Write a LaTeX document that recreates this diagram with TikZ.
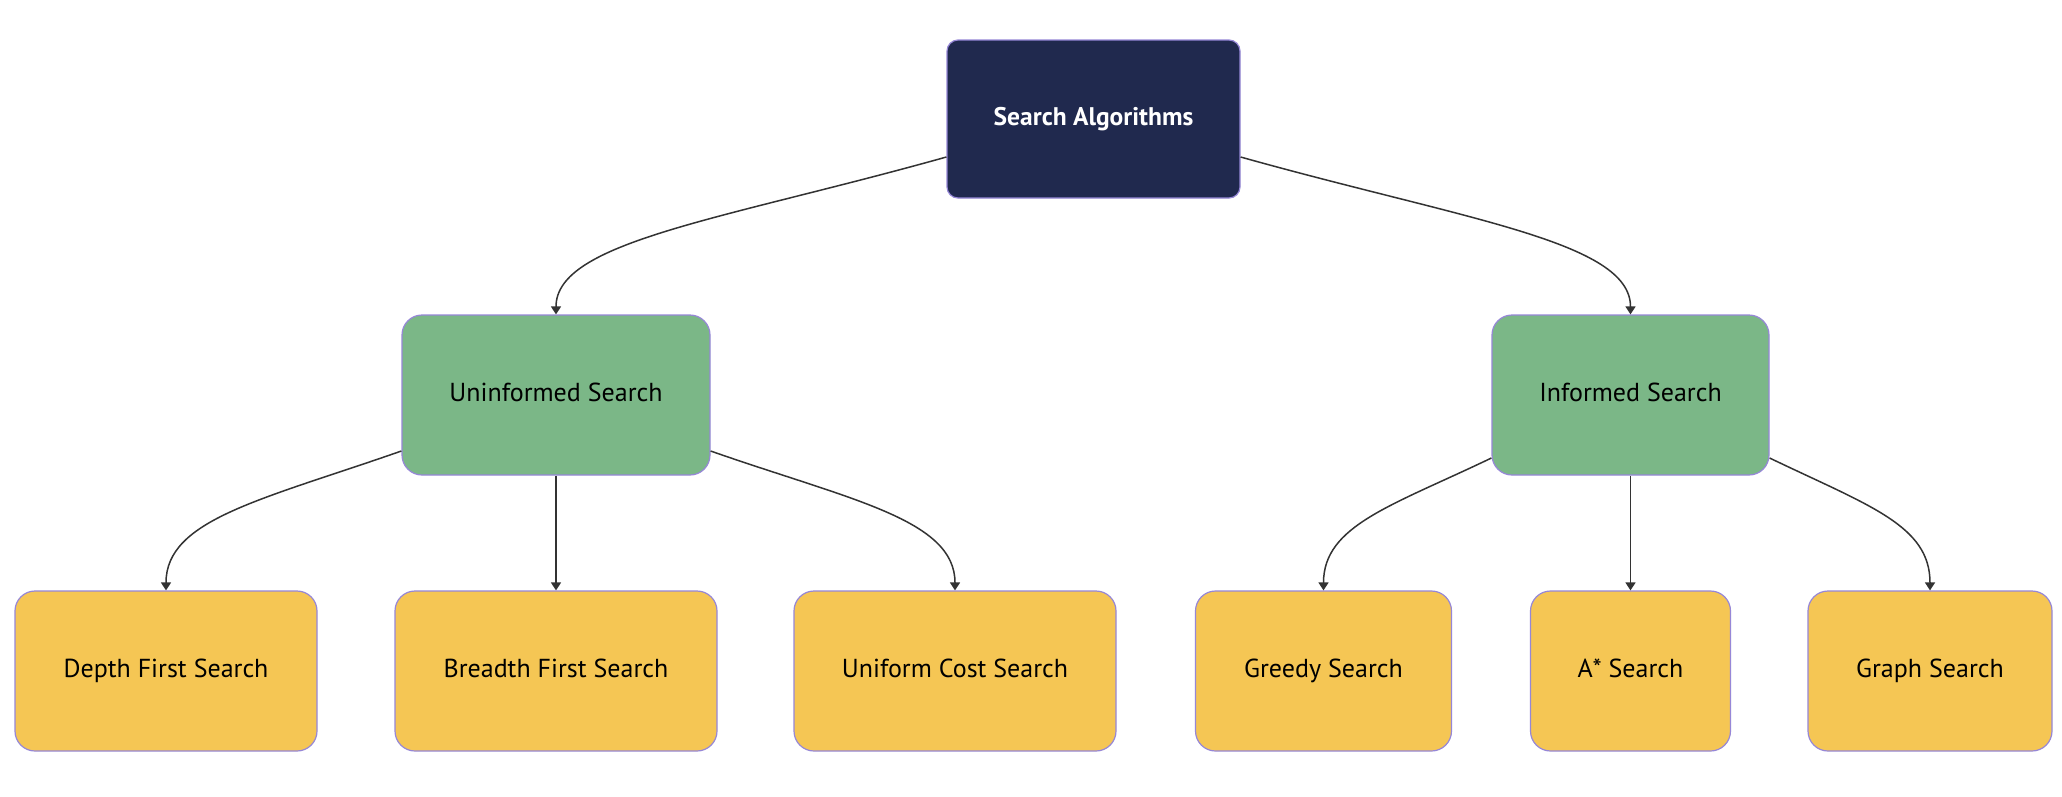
\documentclass[tikz,border=0pt]{standalone}
\usepackage{fontspec}
\setmainfont{PT Sans}
\usetikzlibrary{arrows.meta,calc}
\definecolor{rootfill}{RGB}{32,41,78}
\definecolor{greenfill}{RGB}{123,183,135}
\definecolor{yellowfill}{RGB}{245,198,84}
\definecolor{borderc}{RGB}{150,135,215}
\definecolor{linec}{RGB}{51,51,51}
\tikzset{
  box/.style={rectangle, draw=borderc, line width=1.2pt, inner sep=0pt, align=center,
    font=\fontsize{26}{30}\selectfont, text=black, text height=1.3em, text depth=0em},
  rootbox/.style={box, fill=rootfill, rounded corners=11pt, text=white,
    font=\fontsize{25.5}{30}\selectfont\bfseries, minimum width=293pt, minimum height=158pt},
  midbox/.style={box, fill=greenfill, rounded corners=20pt, minimum height=160pt},
  leafbox/.style={box, fill=yellowfill, rounded corners=20pt, minimum height=160pt},
  arr/.style={draw=linec, line width=1.5pt, -{Triangle[width=10pt,length=8pt]}}
}
\begin{document}
\begin{tikzpicture}[x=1pt,y=-1pt]
\useasboundingbox[fill=white] (0,0) rectangle (2062,796);
\node[rootbox] (root) at (1093.5,119) {Search Algorithms};
\node[midbox, minimum width=308pt] (unin) at (556,395) {Uninformed Search};
\node[midbox, minimum width=277pt] (inf) at (1630.5,395) {Informed Search};
\node[leafbox, minimum width=302pt] (dfs) at (166,671) {Depth First Search};
\node[leafbox, minimum width=322pt] (bfs) at (556,671) {Breadth First Search};
\node[leafbox, minimum width=322pt] (ucs) at (955,671) {Uniform Cost Search};
\node[leafbox, minimum width=256pt] (greedy) at (1323.5,671) {Greedy Search};
\node[leafbox, minimum width=200pt] (astar) at (1630.5,671) {A* Search};
\node[leafbox, minimum width=244pt] (graph) at (1930,671) {Graph Search};
% connectors
\draw[arr] ([yshift=-38pt]root.west) .. controls +(-225,63) and +(0,-73) .. (unin.north);
\draw[arr] ([yshift=-38pt]root.east) .. controls +(225,63) and +(0,-73) .. (inf.north);
\draw[arr] ([yshift=-56pt]unin.west) .. controls +(-140,49) and +(0,-71) .. (dfs.north);
\draw[arr] (unin.south) -- (bfs.north);
\draw[arr] ([yshift=-56pt]unin.east) .. controls +(140,49) and +(0,-71) .. (ucs.north);
\draw[arr] ([yshift=-63pt]inf.west) .. controls +(-100,48) and +(0,-65) .. (greedy.north);
\draw[arr] (inf.south) -- (astar.north);
\draw[arr] ([yshift=-63pt]inf.east) .. controls +(100,48) and +(0,-65) .. (graph.north);
\end{tikzpicture}
\end{document}
